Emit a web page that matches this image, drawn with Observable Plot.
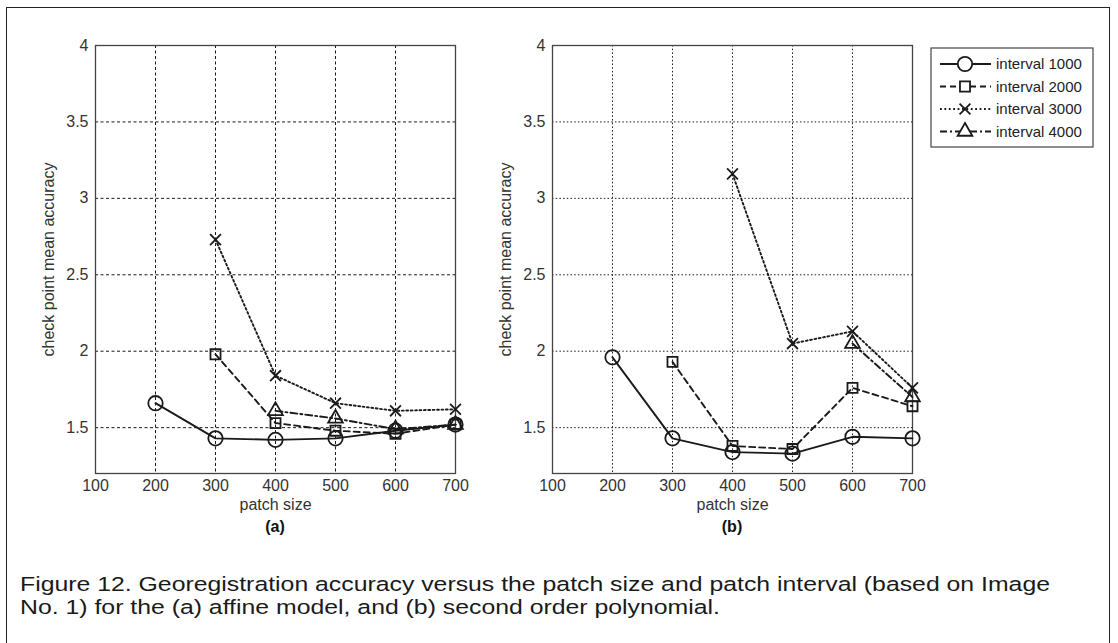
<!DOCTYPE html>
<html>
<head>
<meta charset="utf-8">
<script src="https://cdn.jsdelivr.net/npm/d3@7"></script>
<script src="https://cdn.jsdelivr.net/npm/@observablehq/plot@0.6"></script>
<style>
  html, body { margin: 0; padding: 0; background: #fff; }
  #fig { position: relative; width: 1118px; height: 643px; overflow: hidden; background: #fff; }
  #border { position: absolute; left: 6px; top: 7px; width: 1104px; height: 660px; border: 1px solid #222; box-sizing: border-box; }
  .panel { position: absolute; top: 0; }
  .plab { position: absolute; font-family: "Liberation Sans", Arial, sans-serif; font-weight: bold; font-size: 16px; color: #111; transform: translateX(-50%); }
  #caption { position: absolute; left: 20px; top: 572px; font-family: "Liberation Sans", Arial, sans-serif; font-size: 20.5px; line-height: 23px; color: #1a1a1a; white-space: nowrap; transform-origin: 0 0; }
  #caption span { display: block; width: max-content; }
  #legend { position: absolute; left: 0; top: 0; }
</style>
</head>
<body>
<div id="fig">
  <div id="border"></div>
  <div id="pa" class="panel" style="left:0px"></div>
  <div id="pb" class="panel" style="left:460px"></div>
  <div class="plab" style="left:275px; top:518px">(a)</div>
  <div class="plab" style="left:732px; top:518px">(b)</div>
  <svg id="legend" width="1118" height="643"></svg>
  <div id="caption"><span id="cap1">Figure 12. Georegistration accuracy versus the patch size and patch interval (based on Image</span><span>No. 1) for the (a) affine model, and (b) second order polynomial.</span></div>
</div>
<script>
// ---- data ----
const patchSizes = [200, 300, 400, 500, 600, 700];
const seriesNames = ["interval 1000", "interval 2000", "interval 3000", "interval 4000"];
const xTicks = [100, 200, 300, 400, 500, 600, 700];
const yTicks = [1.5, 2, 2.5, 3, 3.5, 4];
const xLabel = "patch size";
const yLabel = "check point mean accuracy";

// (a) affine model
const a1000 = [1.66, 1.43, 1.42, 1.43, 1.48, 1.52];
const a2000 = [null, 1.98, 1.53, 1.48, 1.46, 1.52];
const a3000 = [null, 2.73, 1.84, 1.66, 1.61, 1.62];
const a4000 = [null, null, 1.61, 1.56, 1.49, 1.52];
// (b) second order polynomial
const b1000 = [1.96, 1.43, 1.34, 1.33, 1.44, 1.43];
const b2000 = [null, 1.93, 1.38, 1.36, 1.76, 1.64];
const b3000 = [null, null, 3.16, 2.05, 2.13, 1.76];
const b4000 = [null, null, null, null, 2.05, 1.70];

// styles per series
const dashes = [null, "6,4", "1.8,2.6", "7,3,2,3"];
const symbols = ["circle", "square2", "times", "triangle2"];
const symR = [7.2, 6.4, 5, 7];

function toRows(vals) {
  return patchSizes.map((x, i) => ({x, y: vals[i]})).filter(d => d.y != null);
}

function panel(seriesVals, opts) {
  const marks = [
    Plot.gridX(xTicks.slice(1, -1), {stroke: "#000", strokeOpacity: 0.9, strokeWidth: 1, strokeDasharray: opts.grid}),
    Plot.gridY(yTicks.slice(0, -1), {stroke: "#000", strokeOpacity: 0.9, strokeWidth: 1, strokeDasharray: opts.grid}),
    Plot.axisX(xTicks, {tickSize: 0, tickPadding: 6, label: null, tickFormat: d => String(d)}),
    Plot.axisY(yTicks, {tickSize: 0, tickPadding: 7, label: null, tickFormat: d => String(d)}),
    Plot.text([xLabel], {frameAnchor: "bottom", dy: 31, lineAnchor: "middle", textAnchor: "middle", text: d => d, fill: "#333"}),
    Plot.text([yLabel], {frameAnchor: "left", dx: -47, rotate: -90, textAnchor: "middle", lineAnchor: "middle", text: d => d, fill: "#333"}),
    Plot.frame({stroke: "#444", strokeWidth: 1.3})
  ];
  seriesVals.forEach((vals, k) => {
    const rows = toRows(vals);
    marks.push(Plot.line(rows, {x: "x", y: "y", stroke: "#1a1a1a", strokeWidth: 1.9, strokeDasharray: dashes[k]}));
  });
  seriesVals.forEach((vals, k) => {
    const rows = toRows(vals);
    marks.push(Plot.dot(rows, {x: "x", y: "y", symbol: symbols[k], r: symR[k], stroke: "#1a1a1a", strokeWidth: 1.8, fill: "none"}));
  });
  return Plot.plot({
    width: 480, height: 540,
    marginLeft: opts.ml, marginRight: 480 - opts.ml - 360, marginTop: 45, marginBottom: 67,
    x: {domain: [100, 700], axis: null},
    y: {domain: [1.2, 4], axis: null},
    style: {fontFamily: "'Liberation Sans', Arial, sans-serif", fontSize: "16px", color: "#333", background: "transparent"},
    marks
  });
}

document.getElementById("pa").appendChild(panel([a1000, a2000, a3000, a4000], {ml: 95, grid: "3,2.5"}));
document.getElementById("pb").appendChild(panel([b1000, b2000, b3000, b4000], {ml: 92, grid: "1.5,2.2"}));

// ---- legend ----
const lg = d3.select("#legend");
const box = {x: 931, y: 48, w: 162, h: 99};
lg.append("rect").attr("x", box.x).attr("y", box.y).attr("width", box.w).attr("height", box.h)
  .attr("fill", "#fff").attr("stroke", "#444").attr("stroke-width", 1.2);
const symGen = {
  circle: d3.symbolCircle, square2: d3.symbolSquare2, times: d3.symbolTimes, triangle2: d3.symbolTriangle2
};
seriesNames.forEach((name, k) => {
  const cy = 64 + k * 22.5;
  const line = lg.append("line").attr("x1", 940).attr("x2", 991).attr("y1", cy).attr("y2", cy)
    .attr("stroke", "#1a1a1a").attr("stroke-width", 1.8);
  if (dashes[k]) line.attr("stroke-dasharray", dashes[k]);
  const r = symR[k];
  lg.append("path").attr("d", d3.symbol(symGen[symbols[k]], Math.PI * r * r)())
    .attr("transform", `translate(965,${cy})`).attr("fill", "#fff").attr("stroke", "#1a1a1a").attr("stroke-width", 1.8);
  lg.append("text").attr("x", 996).attr("y", cy).attr("dy", "0.35em")
    .attr("font-family", "'Liberation Sans', Arial, sans-serif").attr("font-size", 15).attr("fill", "#222").text(name);
});

// ---- caption: condensed to the reference width ----
const cap = document.getElementById("caption");
const w1 = document.getElementById("cap1").getBoundingClientRect().width;
cap.style.transform = `scaleX(${1030 / w1})`;
</script>
</body>
</html>
